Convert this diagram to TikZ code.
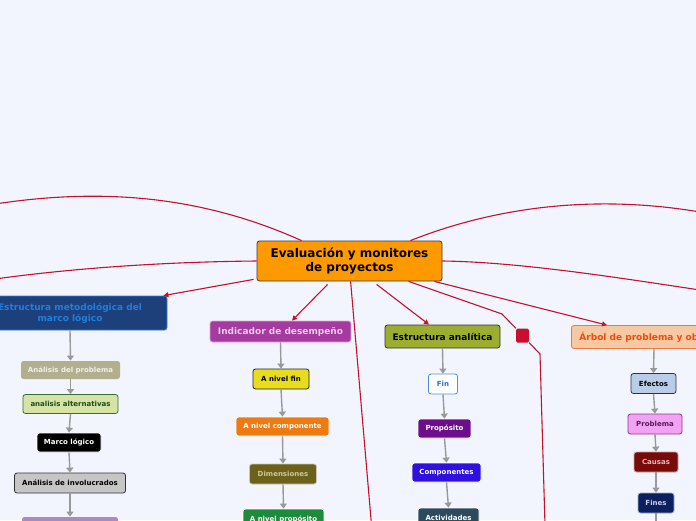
\documentclass[tikz,border=0pt]{standalone}
\usepackage{fontspec}
\setmainfont{DejaVu Sans}
\usetikzlibrary{arrows.meta,calc}
\definecolor{bg}{HTML}{F2F5FD}
\definecolor{linkred}{HTML}{C8102E}
\definecolor{conn}{HTML}{999999}
\tikzset{
  box/.style={rectangle, rounded corners=2.5pt, inner sep=0pt, align=center, line width=0.8pt, font=\bfseries\fontsize{7}{8}\selectfont},
  bigbox/.style={box, font=\bfseries\fontsize{9}{11}\selectfont},
  rl/.style={draw=linkred, line width=1.1pt},
  ra/.style={rl, -{Triangle[width=5pt,length=5pt]}},
  ga/.style={draw=conn, line width=1.4pt, -{Triangle[width=7pt,length=5pt]}}
}
\begin{document}
\begin{tikzpicture}[x=1pt,y=-1pt]
\useasboundingbox (0,0) rectangle (696,520);
\fill[bg] (0,0) rectangle (696,520);
\clip (0,0) rectangle (696,520);

% central
\node[box, fill={rgb,255:red,255;green,153;blue,0}, draw={rgb,255:red,60;green,60;blue,60}, minimum width=185pt, minimum height=40pt, font=\bfseries\fontsize{12}{14}\selectfont] (c) at (349.5,261) {Evaluación y monitores\\de proyectos};

% left branch
\node[bigbox, fill={rgb,255:red,29;green,64;blue,122}, draw={rgb,255:red,47;green,127;blue,216}, text={rgb,255:red,31;green,127;blue,224}, minimum width=194pt, minimum height=34pt] (em) at (70,313) {Estructura metodológica del\\marco lógico};
\node[box, fill={rgb,255:red,178;green,175;blue,143}, text={rgb,255:red,240;green,240;blue,232}, minimum width=99pt, minimum height=18pt] (ap) at (70.5,370) {Análisis del problema};
\node[box, fill={rgb,255:red,213;green,227;blue,165}, draw={rgb,255:red,61;green,107;blue,53}, text={rgb,255:red,30;green,74;blue,30}, minimum width=95pt, minimum height=19pt] (aa) at (70.5,404) {analisis alternativas};
\node[box, fill=black, draw=white, text=white, minimum width=64pt, minimum height=19pt] (ml) at (69,442.5) {Marco lógico};
\node[box, fill={rgb,255:red,198;green,198;blue,198}, draw={rgb,255:red,51;green,51;blue,51}, text=black, minimum width=111pt, minimum height=20pt] (ai) at (70,483) {Análisis de involucrados};
\node[box, fill={rgb,255:red,169;green,138;blue,198}, minimum width=96pt, minimum height=22pt] (pu) at (70,528) {};

% middle-left branch
\node[bigbox, fill={rgb,255:red,164;green,59;blue,158}, draw={rgb,255:red,232;green,160;blue,224}, text={rgb,255:red,245;green,200;blue,240}, minimum width=141pt, minimum height=21pt] (ind) at (280.5,331.5) {Indicador de desempeño};
\node[box, fill={rgb,255:red,232;green,220;blue,30}, draw={rgb,255:red,34;green,34;blue,34}, text=black, minimum width=56pt, minimum height=20pt] (anf) at (281,379) {A nivel fin};
\node[box, fill={rgb,255:red,238;green,123;blue,17}, draw=white, text=white, minimum width=93pt, minimum height=19pt] (anc) at (282.5,426.5) {A nivel componente};
\node[box, fill={rgb,255:red,107;green,97;blue,26}, draw={rgb,255:red,200;green,200;blue,180}, text={rgb,255:red,207;green,199;blue,154}, minimum width=67pt, minimum height=20pt] (dim) at (283,474) {Dimensiones};
\node[box, fill={rgb,255:red,30;green,139;blue,58}, draw=white, text=white, minimum width=81pt, minimum height=20pt] (anp) at (283.5,519) {A nivel propósito};

% middle branch
\node[bigbox, fill={rgb,255:red,156;green,174;blue,47}, draw={rgb,255:red,51;green,51;blue,51}, text=black, minimum width=115pt, minimum height=23pt] (ea) at (442.5,336.5) {Estructura analítica};
\node[box, fill=white, draw={rgb,255:red,74;green,144;blue,226}, text={rgb,255:red,31;green,112;blue,216}, minimum width=29pt, minimum height=20pt] (fin) at (443,384) {Fin};
\node[box, fill={rgb,255:red,108;green,13;blue,140}, draw=white, text=white, minimum width=53pt, minimum height=19pt] (pro) at (444.5,428.5) {Propósito};
\node[box, fill={rgb,255:red,47;green,16;blue,224}, draw=white, text=white, minimum width=69pt, minimum height=19pt] (com) at (446.5,472.5) {Componentes};
\node[box, fill={rgb,255:red,45;green,74;blue,92}, draw=white, text=white, minimum width=61pt, minimum height=20pt] (act) at (448.5,518) {Actividades};

% right branch
\node[bigbox, anchor=west, fill={rgb,255:red,247;green,201;blue,162}, draw={rgb,255:red,240;green,120;blue,72}, text={rgb,255:red,240;green,74;blue,16}, minimum height=23pt, inner xsep=8pt] (arb) at (571,337) {Árbol de problema y objetivos};
\node[box, fill={rgb,255:red,185;green,205;blue,232}, draw={rgb,255:red,51;green,51;blue,51}, text=black, minimum width=45pt, minimum height=20pt] (efe) at (653.5,383.5) {Efectos};
\node[box, fill={rgb,255:red,242;green,162;blue,242}, draw={rgb,255:red,138;green,58;blue,138}, text={rgb,255:red,90;green,26;blue,90}, minimum width=54pt, minimum height=20pt] (prb) at (655,424) {Problema};
\node[box, fill={rgb,255:red,120;green,10;blue,10}, draw={rgb,255:red,200;green,160;blue,160}, text={rgb,255:red,232;green,184;blue,184}, minimum width=44pt, minimum height=20pt] (cau) at (656,462) {Causas};
\node[box, fill={rgb,255:red,12;green,31;blue,94}, draw={rgb,255:red,160;green,170;blue,200}, text={rgb,255:red,200;green,208;blue,240}, minimum width=36pt, minimum height=20pt] (fns) at (656,503) {Fines};

% red square
\node[rectangle, rounded corners=1.5pt, fill=linkred, minimum width=13pt, minimum height=14pt, inner sep=0pt] (sq) at (522.5,335.5) {};

% free ends
\coordinate (e1) at (-5,204);
\coordinate (e2) at (-5,279);
\coordinate (e9) at (700,290);
\coordinate (e10) at (700,212);
\coordinate (e5) at (371.5,525);
\coordinate (e7) at (545,525);
\coordinate (efn) at (656,525);

% red connectors
\draw[rl] ($(c.north west)+(45,0)$) .. controls (200,195) and (100,188) .. (e1);
\draw[rl] (c.west) .. controls (150,262) and (60,270) .. (e2);
\draw[ra] ($(c.south west)+(-3,-2)$) -- ($(em.north east)+(-4,0)$);
\draw[ra] ($(c.south west)+(71,3)$) -- ($(ind.north)+(11.5,0)$);
\draw[rl] ($(c.south west)+(94,0)$) -- (e5);
\draw[ra] ($(c.south west)+(120,3)$) -- ($(ea.north)+(-13.5,0)$);
\draw[rl] ($(c.south west)+(152,0)$) -- (502,314) -- (sq.north west);
\draw[rl] (sq.south east) -- (540,354) -- (e7);
\draw[ra] ($(c.south east)+(-8,0)$) -- ($(arb.north west)+(36,0)$);
\draw[rl] (c.east) .. controls (520,262) and (620,278) .. (e9);
\draw[rl] ($(c.north east)+(-32,0)$) .. controls (500,205) and (600,195) .. (e10);

% gray connectors
\draw[ga] (em.south) -- (ap.north);
\draw[ga] (ap.south) -- (aa.north);
\draw[ga] (aa.south) -- (ml.north);
\draw[ga] (ml.south) -- (ai.north);
\draw[ga] (ai.south) -- (pu.north);

\draw[ga] (ind.south) -- (anf.north);
\draw[ga] (anf.south) -- (anc.north);
\draw[ga] (anc.south) -- (dim.north);
\draw[ga] (dim.south) -- (anp.north);

\draw[ga] (ea.south) -- (fin.north);
\draw[ga] (fin.south) -- (pro.north);
\draw[ga] (pro.south) -- (com.north);
\draw[ga] (com.south) -- (act.north);

\draw[ga] ($(arb.south west)+(83,0)$) -- (efe.north);
\draw[ga] (efe.south) -- (prb.north);
\draw[ga] (prb.south) -- (cau.north);
\draw[ga] (cau.south) -- (fns.north);
\draw[draw=conn, line width=1.4pt] (fns.south) -- (efn);
\end{tikzpicture}
\end{document}
